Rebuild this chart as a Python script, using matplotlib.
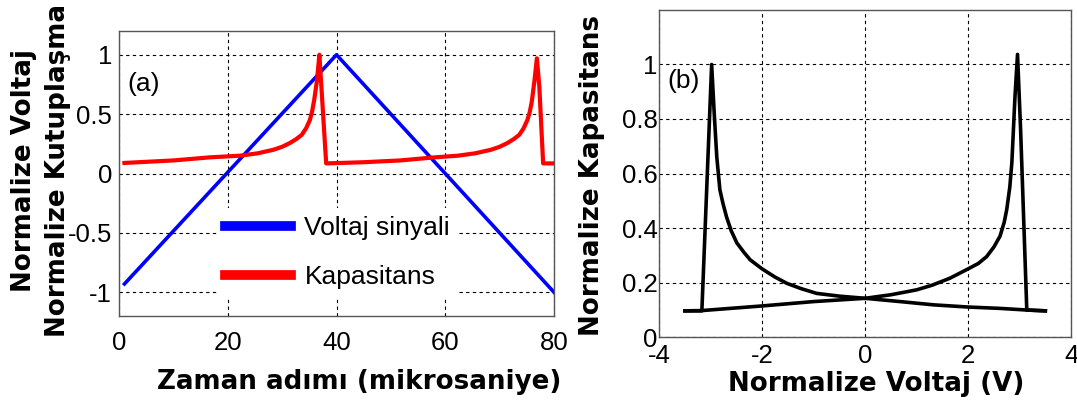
import matplotlib
matplotlib.use("Agg")
import matplotlib.pyplot as plt

plt.rcParams["font.family"] = ["Liberation Sans", "DejaVu Sans"]
plt.rcParams["axes.unicode_minus"] = False

# (a) zaman serisi
t_voltaj = [1, 40, 80]
v_voltaj = [-0.93, 1.0, -1.0]

t_kap = [1, 10, 16.7, 22.25, 25.5, 28.4, 30, 31.4, 32.6, 33.6, 34.4, 35.1,
         35.5, 35.9, 36.4, 36.85, 38.1, 45, 51.7, 57.8, 62.3, 65.5, 68.4, 70,
         71.4, 72.6, 73.6, 74.4, 75.1, 75.5, 75.9, 76.4, 76.85, 77.3, 78.0, 80]
c_kap = [0.089, 0.11, 0.136, 0.15, 0.17, 0.2, 0.225, 0.256, 0.29, 0.325, 0.38,
         0.45, 0.52, 0.62, 0.78, 1.0, 0.085, 0.095, 0.11, 0.135, 0.15, 0.17,
         0.2, 0.225, 0.256, 0.29, 0.325, 0.38, 0.45, 0.51, 0.6, 0.78, 0.97,
         0.73, 0.085, 0.085]

# (b) C-V egrisi
v_ileri = [-3.5, -3.17, -2.0, -1.0, 0.0, 0.5, 1.0, 1.3, 1.65, 2.0, 2.2, 2.36,
           2.5, 2.62, 2.7, 2.75, 2.81, 2.85, 2.91, 2.96, 3.02, 3.14, 3.5]
c_ileri = [0.096, 0.097, 0.114, 0.13, 0.142, 0.155, 0.173, 0.19, 0.216, 0.25,
           0.27, 0.295, 0.33, 0.37, 0.42, 0.467, 0.55, 0.64, 0.88, 1.037, 0.76,
           0.099, 0.096]
v_geri = [3.5, 3.14, 2.62, 2.0, 1.33, 0.68, 0.0, -0.5, -0.94, -1.25, -1.52,
          -1.75, -2.0, -2.23, -2.35, -2.49, -2.6, -2.69, -2.76, -2.82, -2.88,
          -2.93, -2.98, -3.17, -3.5]
c_geri = [0.096, 0.099, 0.105, 0.11, 0.118, 0.13, 0.142, 0.15, 0.16, 0.178,
          0.197, 0.22, 0.25, 0.283, 0.31, 0.345, 0.39, 0.44, 0.49, 0.54, 0.66,
          0.82, 1.0, 0.096, 0.096]

etiket_font = dict(fontfamily="DejaVu Sans", fontweight="bold", fontsize=18.8)
grid_stil = dict(color="k", linestyle=(0, (3, 3)), linewidth=0.8)

fig = plt.figure(figsize=(10.77, 4.08), dpi=100)

# ---- (a)
ax1 = fig.add_axes([0.1105, 0.2255, 0.4039, 0.6985])
ax1.plot(t_voltaj, v_voltaj, color="#0000ff", lw=2.6, label="Voltaj sinyali")
ax1.plot(t_kap, c_kap, color="#ff0000", lw=3.0, label="Kapasitans")
ax1.set_xlim(0, 80)
ax1.set_ylim(-1.2, 1.2)
ax1.set_xticks([0, 20, 40, 60, 80])
ax1.set_yticks([-1, -0.5, 0, 0.5, 1])
ax1.set_yticklabels(["-1", "-0.5", "0", "0.5", "1"])
ax1.grid(True, **grid_stil)
ax1.tick_params(length=0, labelsize=18.5, pad=5)
ax1.tick_params(axis="x", pad=11)
ax1.text(1.5, 0.75, "(a)", fontsize=19, ha="left", va="center")
ax1.set_xlabel("Zaman adımı (mikrosaniye)", va="center", **etiket_font)
ax1.xaxis.set_label_coords(0.552, -0.23)
ax1.set_ylabel("Normalize Voltaj\nNormalize Kutuplaşma", va="center",
               ha="center", multialignment="center", linespacing=1.4,
               **etiket_font)
ax1.yaxis.set_label_coords(-0.18, 0.51)
leg = ax1.legend(loc="center left", bbox_to_anchor=(0.226, 0.223),
                 fontsize=19, handlelength=2.5, handletextpad=0.5,
                 labelspacing=0.95, borderpad=0.3, borderaxespad=0,
                 frameon=True, framealpha=1, edgecolor="none", fancybox=False)
for h in leg.get_lines():
    h.set_linewidth(7)

# ---- (b)
ax2 = fig.add_axes([0.612, 0.174, 0.3825, 0.8015])
ax2.plot(v_ileri, c_ileri, color="k", lw=2.6)
ax2.plot(v_geri, c_geri, color="k", lw=2.6)
ax2.set_xlim(-4, 4)
ax2.set_ylim(0, 1.2)
ax2.set_xticks([-4, -2, 0, 2, 4])
ax2.set_xticklabels(["-4", "-2", "0", "2", "4"])
ax2.set_yticks([0, 0.2, 0.4, 0.6, 0.8, 1])
ax2.set_yticklabels(["0", "0.2", "0.4", "0.6", "0.8", "1"])
ax2.grid(True, **grid_stil)
ax2.tick_params(length=0, labelsize=18.5, pad=1)
ax2.tick_params(axis="x", pad=5)
ax2.text(-3.84, 0.94, "(b)", fontsize=19, ha="left", va="center")
ax2.set_xlabel("Normalize Voltaj (V)", va="center", **etiket_font)
ax2.xaxis.set_label_coords(0.527, -0.145)
ax2.set_ylabel("Normalize Kapasitans", va="center", ha="center", **etiket_font)
ax2.yaxis.set_label_coords(-0.163, 0.495)

for ax in (ax1, ax2):
    for sp in ax.spines.values():
        sp.set_color("#555555")
        sp.set_linewidth(1.0)

fig.savefig("out.png", dpi=100)
plt.close(fig)
